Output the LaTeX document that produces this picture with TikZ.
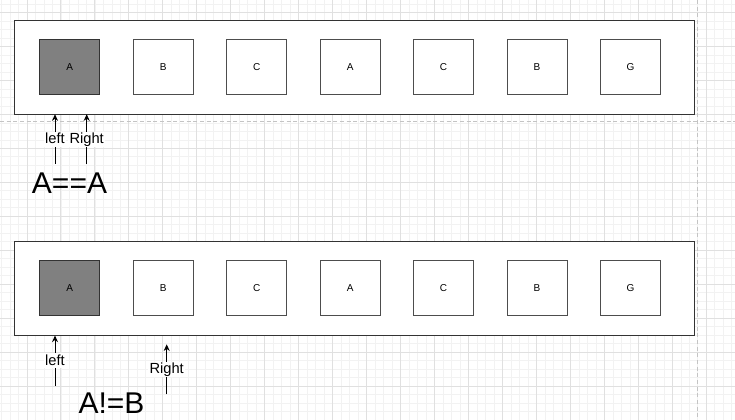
\documentclass[tikz,border=0pt]{standalone}
\usepackage{fontspec}
\setmainfont{Liberation Sans}
\usetikzlibrary{positioning, arrows.meta}
\definecolor{GridMinor}{HTML}{F2F2F2}
\definecolor{GridMajor}{HTML}{E0E0E0}
\definecolor{PageBreak}{HTML}{C4C4C4}
\definecolor{EdgeDark}{HTML}{333333}
\definecolor{CellEdge}{HTML}{4D4D4D}
\definecolor{CellHit}{HTML}{808080}

\begin{document}
\begin{tikzpicture}[
    x=0.75pt, y=-0.75pt,
    node distance=25.1pt,
    strip/.style={
      rectangle, draw=EdgeDark, fill=white, line width=0.7pt,
      minimum width=510pt, minimum height=70.5pt,
      inner sep=0pt, outer sep=0pt
    },
    cell/.style={
      rectangle, draw=CellEdge, fill=white, line width=0.7pt,
      minimum width=45pt, minimum height=41.25pt,
      inner sep=0pt, outer sep=0pt,
      font=\fontsize{7.5}{9}\selectfont
    },
    hit/.style={cell, fill=CellHit, draw=EdgeDark},
    tag/.style={
      fill=white, inner sep=1pt,
      text height=1.5ex, text depth=.25ex,
      font=\fontsize{11}{13}\selectfont
    },
    verdict/.style={inner sep=0pt, font=\fontsize{22.5}{26}\selectfont},
    ptr/.style={black, line width=0.75pt, arrows={-Stealth[length=5pt,width=4.5pt]}}
  ]
    \useasboundingbox (0,0) rectangle (735,420);

    %% Background grid
    \foreach \i in {0,...,86}
      \draw[GridMinor, line width=0.5pt] (1.43+\i*8.4925,0) -- (1.43+\i*8.4925,420);
    \foreach \j in {0,...,49}
      \draw[GridMinor, line width=0.5pt] (0,3.96+\j*8.4925) -- (735,3.96+\j*8.4925);
    \foreach \i in {0,...,20}
      \draw[GridMajor, line width=0.6pt] (26.9+\i*33.97,0) -- (26.9+\i*33.97,420);
    \foreach \j in {0,...,11}
      \draw[GridMajor, line width=0.6pt] (0,12.45+\j*33.97) -- (735,12.45+\j*33.97);

    %% Page breaks
    \draw[PageBreak, line width=0.6pt, dash pattern=on 3pt off 2pt] (697,0) -- (697,420);
    \draw[PageBreak, line width=0.6pt, dash pattern=on 3pt off 2pt] (0,121) -- (735,121);

    %% Strips
    \node[strip] (topstrip) at (354,67.2) {};
    \node[strip] (botstrip) at (354,288.5) {};

    %% Top row
    \node[hit] (a1) at (69.7,67.4) {A};
    \node[cell, right=of a1] (b1) {B};
    \node[cell, right=of b1] (c1) {C};
    \node[cell, right=of c1] (d1) {A};
    \node[cell, right=of d1] (e1) {C};
    \node[cell, right=of e1] (f1) {B};
    \node[cell, right=of f1] (g1) {G};

    %% Bottom row
    \node[hit, below=124.3pt of a1] (a2) {A};
    \node[cell, right=of a2] (b2) {B};
    \node[cell, right=of b2] (c2) {C};
    \node[cell, right=of c2] (d2) {A};
    \node[cell, right=of d2] (e2) {C};
    \node[cell, right=of e2] (f2) {B};
    \node[cell, right=of f2] (g2) {G};

    %% Pointers, top
    \coordinate (leftA) at (55,164);
    \coordinate (rightA) at (86.7,164);
    \draw[ptr] (leftA) -- (leftA |- topstrip.south) node[midway, tag] {left};
    \draw[ptr] (rightA) -- (rightA |- topstrip.south) node[midway, tag] {Right};

    %% Pointers, bottom
    \coordinate (leftB) at (55,385.7);
    \coordinate (rightB) at (166.7,394.3);
    \coordinate (rightBtip) at (166.7,344.3);
    \draw[ptr] (leftB) -- (leftB |- botstrip.south) node[midway, tag] {left};
    \draw[ptr] (rightB) -- (rightBtip) node[midway, tag] {Right};

    %% Comparisons
    \node[verdict] (sameA) at (69.5,182.7) {A==A};
    \node[verdict] (diffAB) at (111.5,403) {A!=B};
  \end{tikzpicture}
\end{document}
